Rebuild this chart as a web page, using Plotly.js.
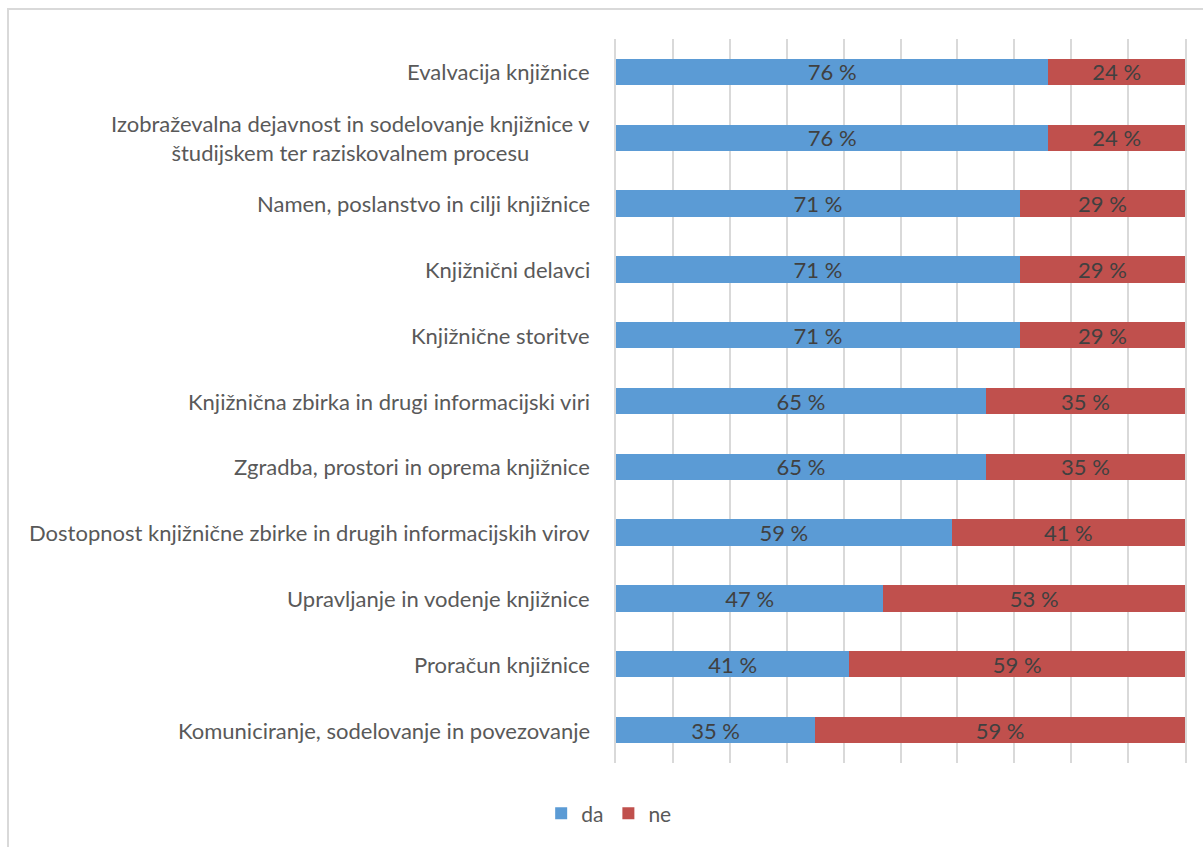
<!DOCTYPE html>
<html>
<head>
<meta charset="utf-8">
<script src="https://cdn.plot.ly/plotly-3.0.1.min.js"></script>
<style>
html, body { margin: 0; padding: 0; overflow: hidden; background: #fff; }
#frame { position: absolute; left: 7px; top: 8px; width: 1300px; height: 1000px; border: 2px solid #d9d9d9; pointer-events: none; z-index: 5; }
#chart { position: absolute; left: 0; top: 0; width: 1203px; height: 847px; }
</style>
</head>
<body>
<div id="chart"></div>
<div id="frame"></div>
<script>
const categories = [
  "Evalvacija knjižnice",
  "Izobraževalna dejavnost in sodelovanje knjižnice v<br>študijskem ter raziskovalnem procesu",
  "Namen, poslanstvo in cilji knjižnice",
  "Knjižnični delavci",
  "Knjižnične storitve",
  "Knjižnična zbirka in drugi informacijski viri",
  "Zgradba, prostori in oprema knjižnice",
  "Dostopnost knjižnične zbirke in drugih informacijskih virov",
  "Upravljanje in vodenje knjižnice",
  "Proračun knjižnice",
  "Komuniciranje, sodelovanje in povezovanje"
];
const daValues = [76, 76, 71, 71, 71, 65, 65, 59, 47, 41, 35];
const neValues = [24, 24, 29, 29, 29, 35, 35, 41, 53, 59, 65];
const daLabels = ["76 %", "76 %", "71 %", "71 %", "71 %", "65 %", "65 %", "59 %", "47 %", "41 %", "35 %"];
const neLabels = ["24 %", "24 %", "29 %", "29 %", "29 %", "35 %", "35 %", "41 %", "53 %", "59 %", "59 %"];

const FONT = "Lato, sans-serif";
const labelFont = {family: FONT, size: 22, color: "#404040"};

const traces = [
  {type: "bar", orientation: "h", name: "da", y: categories, x: daValues,
   text: daLabels, textposition: "inside", insidetextanchor: "middle", constraintext: "none",
   textfont: labelFont, marker: {color: "#5B9BD5"}, hoverinfo: "x+y"},
  {type: "bar", orientation: "h", name: "ne", y: categories, x: neValues,
   text: neLabels, textposition: "inside", insidetextanchor: "middle", constraintext: "none",
   textfont: labelFont, marker: {color: "#C0504D"}, hoverinfo: "x+y"}
];

const annotations = categories.map(c => ({
  xref: "paper", yref: "y", x: -0.042, y: c, xanchor: "right", yanchor: "middle",
  text: c, showarrow: false, align: "center",
  font: {family: FONT, size: 22, color: "#595959"}
}));

const layout = {
  width: 1203, height: 847,
  margin: {l: 616, r: 18, t: 39, b: 84},
  paper_bgcolor: "#ffffff", plot_bgcolor: "#ffffff",
  barmode: "stack", bargap: 0.6,
  font: {family: FONT, color: "#595959"},
  xaxis: {range: [0, 100], dtick: 10, showticklabels: false, showgrid: true,
          gridcolor: "#d9d9d9", gridwidth: 2, zeroline: false, showline: false, fixedrange: true},
  yaxis: {autorange: "reversed", showticklabels: false, showgrid: false, zeroline: false,
          showline: true, mirror: true, linecolor: "#d9d9d9", linewidth: 2, layer: "below traces"},
  showlegend: true,
  legend: {orientation: "h", x: -0.012, xanchor: "center", y: -0.07, yanchor: "middle",
           traceorder: "normal", font: {family: FONT, size: 21, color: "#595959"},
           itemwidth: 30, itemsizing: "constant"},
  annotations: annotations
};

Plotly.newPlot("chart", traces, layout, {displayModeBar: false, staticPlot: true});
</script>
</body>
</html>
